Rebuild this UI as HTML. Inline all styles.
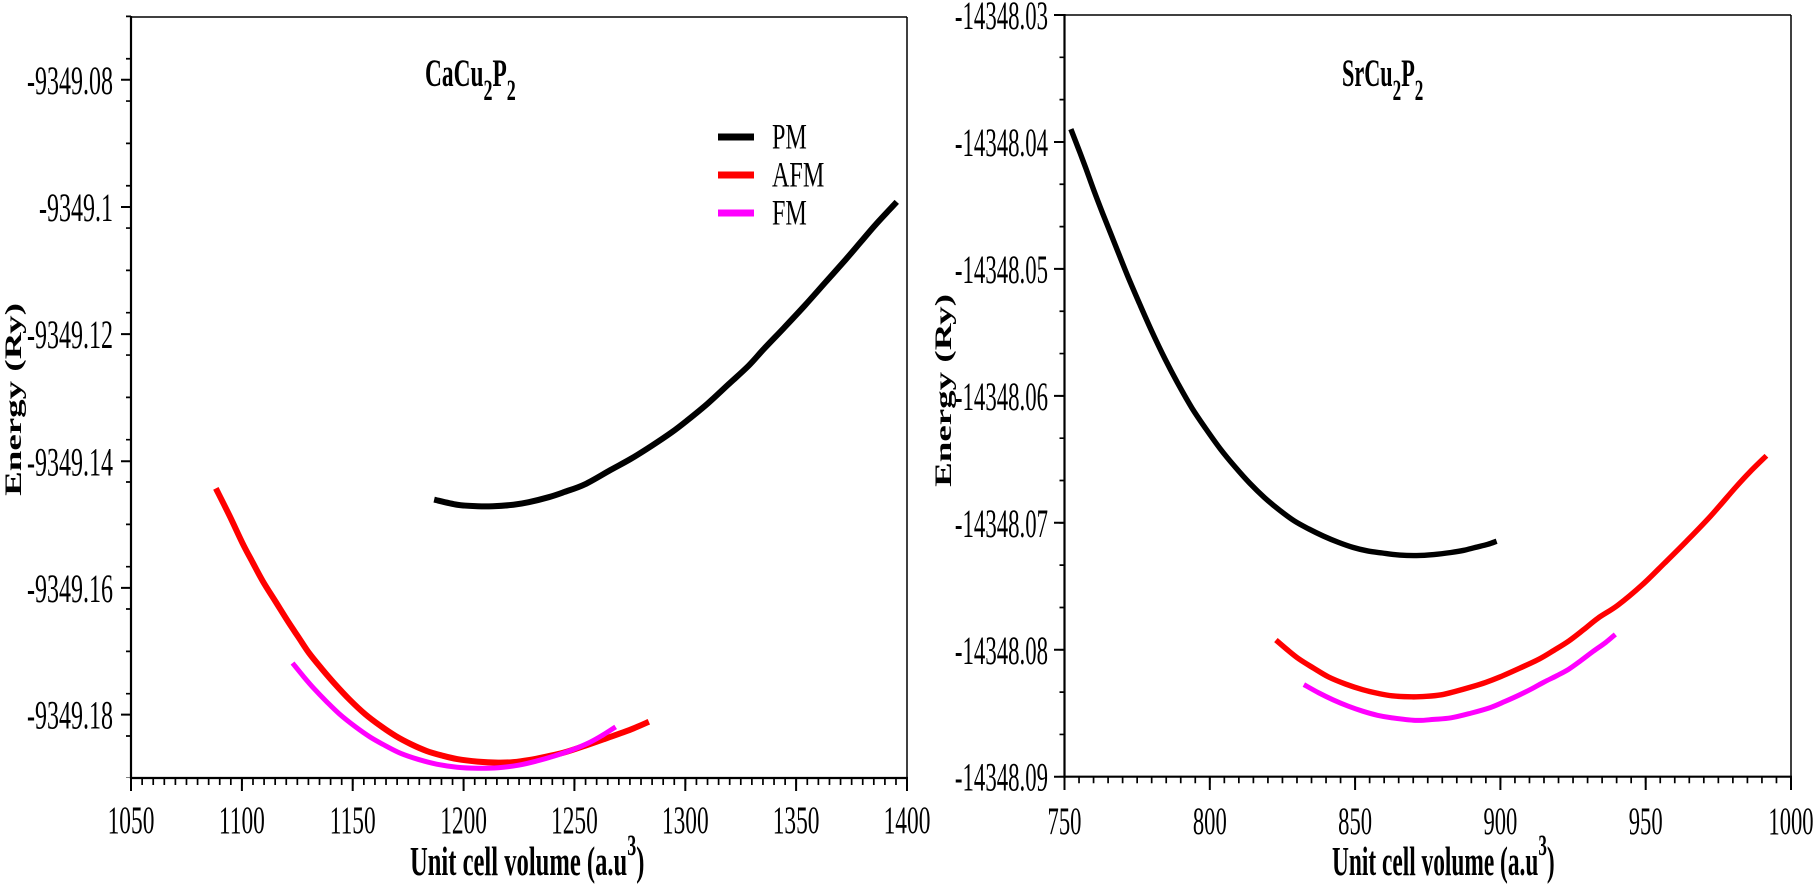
<!DOCTYPE html>
<html>
<head>
<meta charset="utf-8">
<style>
  html, body { margin:0; padding:0; background:#fff; }
  svg { display:block; }
  text { font-family: "Liberation Serif", "Times New Roman", serif; fill:#000; }
</style>
</head>
<body>
<svg id="fig" width="1818" height="885" viewBox="0 0 1818 885" xmlns="http://www.w3.org/2000/svg">
  <rect x="0" y="0" width="1818" height="885" fill="#fff"/>

  <!-- ================= LEFT PANEL ================= -->
  <line x1="131" y1="17" x2="907" y2="17" stroke="#000" stroke-width="1.6"/>
  <line x1="907" y1="17" x2="907" y2="778" stroke="#000" stroke-width="1.5"/>
  <line x1="131" y1="16" x2="131" y2="779" stroke="#000" stroke-width="2.2"/>
  <line x1="130" y1="778" x2="908" y2="778" stroke="#000" stroke-width="2.2"/>

  <line x1="128.5" y1="15.55" x2="128.5" y2="778" stroke="#000" stroke-width="5" stroke-dasharray="1.7 40.63"/>
  <path d="M121 79.8H131M121 207H131M121 334.1H131M121 461.3H131M121 587.9H131M121 714.6H131" stroke="#000" stroke-width="2"/>
  <line x1="130.2" y1="781.5" x2="908" y2="781.5" stroke="#000" stroke-width="7" stroke-dasharray="1.7 9.386"/>
  <path d="M131 778V791M241.9 778V791M352.7 778V791M463.6 778V791M574.4 778V791M685.3 778V791M796.1 778V791M907 778V791" stroke="#000" stroke-width="2"/>

  <g font-size="40">
    <text transform="translate(113,93.8) scale(0.6,1)" text-anchor="end">-9349.08</text>
    <text transform="translate(113,221) scale(0.6,1)" text-anchor="end">-9349.1</text>
    <text transform="translate(113,348.1) scale(0.6,1)" text-anchor="end">-9349.12</text>
    <text transform="translate(113,475.3) scale(0.6,1)" text-anchor="end">-9349.14</text>
    <text transform="translate(113,601.9) scale(0.6,1)" text-anchor="end">-9349.16</text>
    <text transform="translate(113,728.6) scale(0.6,1)" text-anchor="end">-9349.18</text>
  </g>
  <g font-size="39">
    <text transform="translate(131,833) scale(0.6,1)" text-anchor="middle">1050</text>
    <text transform="translate(241.9,833) scale(0.6,1)" text-anchor="middle">1100</text>
    <text transform="translate(352.7,833) scale(0.6,1)" text-anchor="middle">1150</text>
    <text transform="translate(463.6,833) scale(0.6,1)" text-anchor="middle">1200</text>
    <text transform="translate(574.4,833) scale(0.6,1)" text-anchor="middle">1250</text>
    <text transform="translate(685.3,833) scale(0.6,1)" text-anchor="middle">1300</text>
    <text transform="translate(796.1,833) scale(0.6,1)" text-anchor="middle">1350</text>
    <text transform="translate(907,833) scale(0.6,1)" text-anchor="middle">1400</text>
  </g>

  <text transform="translate(410,875) scale(0.6,1)" font-size="41" font-weight="bold">Unit cell volume (a.u<tspan font-size="30" dy="-20">3</tspan><tspan dy="20">)</tspan></text>
  <text transform="translate(21,399.5) rotate(-90) scale(1,0.63)" font-size="37" font-weight="bold" text-anchor="middle">Energy (Ry)</text>

  <text transform="translate(425,86) scale(0.6,1)" font-size="39" font-weight="bold">CaCu<tspan font-size="30" dy="14">2</tspan><tspan dy="-14">P</tspan><tspan font-size="30" dy="14">2</tspan></text>

  <line x1="718" y1="137" x2="754" y2="137" stroke="#000" stroke-width="7"/>
  <line x1="718" y1="175" x2="754" y2="175" stroke="#ff0000" stroke-width="7"/>
  <line x1="718" y1="213" x2="754" y2="213" stroke="#ff00ff" stroke-width="7"/>
  <g font-size="36">
    <text transform="translate(772,148.5) scale(0.67,1)">PM</text>
    <text transform="translate(772,186.5) scale(0.67,1)">AFM</text>
    <text transform="translate(772,224.5) scale(0.67,1)">FM</text>
  </g>

  <g transform="matrix(0.5112 0 0 0.5107 119.75 -0.87)" fill="none" stroke-linejoin="round" stroke-linecap="butt">
    <polyline class="cv" vector-effect="non-scaling-stroke" stroke="#000" stroke-width="6"
      points="615,980 660,990 700,993 730,993 770,990 800,985 840,975 870,965 910,950 960,922 1000,900 1040,875 1080,848 1110,825 1150,792 1190,755 1230,718 1260,685 1300,643 1340,600 1380,555 1420,510 1450,475 1480,440 1520,397"/>
    <polyline class="cv" vector-effect="non-scaling-stroke" stroke="#ff0000" stroke-width="6"
      points="188,958 215,1012 240,1065 260,1103 280,1140 305,1180 330,1220 350,1250 370,1280 395,1311 420,1340 450,1372 480,1400 510,1423 540,1443 570,1459 600,1472 630,1481 660,1488 700,1493 740,1495 770,1494 800,1490 835,1483 870,1475 910,1462 950,1448 1000,1430 1035,1415"/>
    <polyline class="cv" vector-effect="non-scaling-stroke" stroke="#ff00ff" stroke-width="5"
      points="338,1300 360,1327 380,1350 405,1376 430,1400 460,1424 490,1445 520,1462 550,1477 585,1489 620,1498 660,1504 700,1506 740,1505 780,1500 815,1492 850,1482 885,1470 920,1455 945,1441 970,1425"/>
  </g>

  <!-- ================= RIGHT PANEL ================= -->
  <line x1="1064.5" y1="15" x2="1791" y2="15" stroke="#000" stroke-width="1.6"/>
  <line x1="1791" y1="15" x2="1791" y2="777" stroke="#000" stroke-width="1.5"/>
  <line x1="1064.5" y1="14" x2="1064.5" y2="778" stroke="#000" stroke-width="2.2"/>
  <line x1="1063.5" y1="776.7" x2="1792" y2="776.7" stroke="#000" stroke-width="2.2"/>

  <line x1="1062" y1="14.15" x2="1062" y2="777" stroke="#000" stroke-width="5" stroke-dasharray="1.7 40.62"/>
  <path d="M1054 15H1064.5M1054 142H1064.5M1054 268.9H1064.5M1054 395.9H1064.5M1054 522.8H1064.5M1054 649.8H1064.5M1054 776.7H1064.5" stroke="#000" stroke-width="2"/>
  <line x1="1063.65" y1="780" x2="1792" y2="780" stroke="#000" stroke-width="6.5" stroke-dasharray="1.7 12.83"/>
  <path d="M1064.5 776.7V790M1209.8 776.7V790M1355.1 776.7V790M1500.4 776.7V790M1645.7 776.7V790M1791 776.7V790" stroke="#000" stroke-width="2"/>

  <g font-size="40">
    <text transform="translate(1048,29) scale(0.57,1)" text-anchor="end">-14348.03</text>
    <text transform="translate(1048,156) scale(0.57,1)" text-anchor="end">-14348.04</text>
    <text transform="translate(1048,282.9) scale(0.57,1)" text-anchor="end">-14348.05</text>
    <text transform="translate(1048,409.9) scale(0.57,1)" text-anchor="end">-14348.06</text>
    <text transform="translate(1048,536.8) scale(0.57,1)" text-anchor="end">-14348.07</text>
    <text transform="translate(1048,663.8) scale(0.57,1)" text-anchor="end">-14348.08</text>
    <text transform="translate(1048,790.7) scale(0.57,1)" text-anchor="end">-14348.09</text>
  </g>
  <g font-size="39">
    <text transform="translate(1064.5,834) scale(0.58,1)" text-anchor="middle">750</text>
    <text transform="translate(1209.8,834) scale(0.58,1)" text-anchor="middle">800</text>
    <text transform="translate(1355.1,834) scale(0.58,1)" text-anchor="middle">850</text>
    <text transform="translate(1500.4,834) scale(0.58,1)" text-anchor="middle">900</text>
    <text transform="translate(1645.7,834) scale(0.58,1)" text-anchor="middle">950</text>
    <text transform="translate(1791,834) scale(0.58,1)" text-anchor="middle">1000</text>
  </g>

  <text transform="translate(1332,875) scale(0.57,1)" font-size="41" font-weight="bold">Unit cell volume (a.u<tspan font-size="30" dy="-20">3</tspan><tspan dy="20">)</tspan></text>
  <text transform="translate(951,390.5) rotate(-90) scale(1,0.63)" font-size="37" font-weight="bold" text-anchor="middle">Energy (Ry)</text>

  <text transform="translate(1342,86) scale(0.57,1)" font-size="39" font-weight="bold">SrCu<tspan font-size="30" dy="14">2</tspan><tspan dy="-14">P</tspan><tspan font-size="30" dy="14">2</tspan></text>

  <g transform="matrix(0.4905 0 0 0.5119 1048.8 -1.38)" fill="none" stroke-linejoin="round" stroke-linecap="butt">
    <polyline class="cv" vector-effect="non-scaling-stroke" stroke="#000" stroke-width="5.4"
      points="45,255 60,292 75,330 92,375 110,420 135,480 160,540 185,596 210,650 237,704 265,755 292,800 320,840 350,880 380,915 410,947 440,975 470,999 500,1020 530,1036 560,1050 590,1062 620,1072 650,1079 680,1083 715,1087 750,1088 785,1086 820,1082 845,1078 870,1072 895,1066 913,1060"/>
    <polyline class="cv" vector-effect="non-scaling-stroke" stroke="#ff0000" stroke-width="5.4"
      points="463,1253 485,1271 510,1290 540,1308 570,1325 605,1339 640,1350 670,1357 700,1362 740,1364 770,1363 800,1360 830,1353 860,1345 890,1336 920,1325 960,1308 1000,1290 1030,1273 1060,1255 1090,1233 1120,1210 1160,1185 1210,1145 1255,1103 1300,1060 1350,1010 1400,955 1430,924 1463,893"/>
    <polyline class="cv" vector-effect="non-scaling-stroke" stroke="#ff00ff" stroke-width="5"
      points="520,1340 550,1356 580,1370 610,1382 640,1392 670,1400 700,1405 750,1410 785,1408 820,1405 860,1396 900,1385 930,1373 960,1360 985,1348 1010,1335 1035,1323 1060,1310 1085,1293 1110,1275 1135,1258 1155,1242"/>
  </g>
</svg>
<script>
(function(){
  var NS = "http://www.w3.org/2000/svg";
  var pls = document.querySelectorAll("polyline.cv");
  for (var k = 0; k < pls.length; k++) {
    var pl = pls[k];
    var pts = pl.getAttribute("points").trim().split(/\s+/).map(function(s){ return s.split(",").map(Number); });
    var n = pts.length;
    var d = "M" + pts[0][0] + "," + pts[0][1];
    for (var i = 0; i < n - 1; i++) {
      var p0 = pts[i - 1] || pts[i], p1 = pts[i], p2 = pts[i + 1], p3 = pts[i + 2] || pts[i + 1];
      var c1x = p1[0] + (p2[0] - p0[0]) / 6, c1y = p1[1] + (p2[1] - p0[1]) / 6;
      var c2x = p2[0] - (p3[0] - p1[0]) / 6, c2y = p2[1] - (p3[1] - p1[1]) / 6;
      d += " C" + c1x.toFixed(2) + "," + c1y.toFixed(2) + " " + c2x.toFixed(2) + "," + c2y.toFixed(2) + " " + p2[0] + "," + p2[1];
    }
    var path = document.createElementNS(NS, "path");
    path.setAttribute("d", d);
    path.setAttribute("fill", "none");
    path.setAttribute("stroke", pl.getAttribute("stroke"));
    path.setAttribute("stroke-width", pl.getAttribute("stroke-width"));
    path.setAttribute("vector-effect", "non-scaling-stroke");
    path.setAttribute("stroke-linejoin", "round");
    path.setAttribute("stroke-linecap", "butt");
    pl.parentNode.replaceChild(path, pl);
  }
})();
</script>
</body>
</html>
